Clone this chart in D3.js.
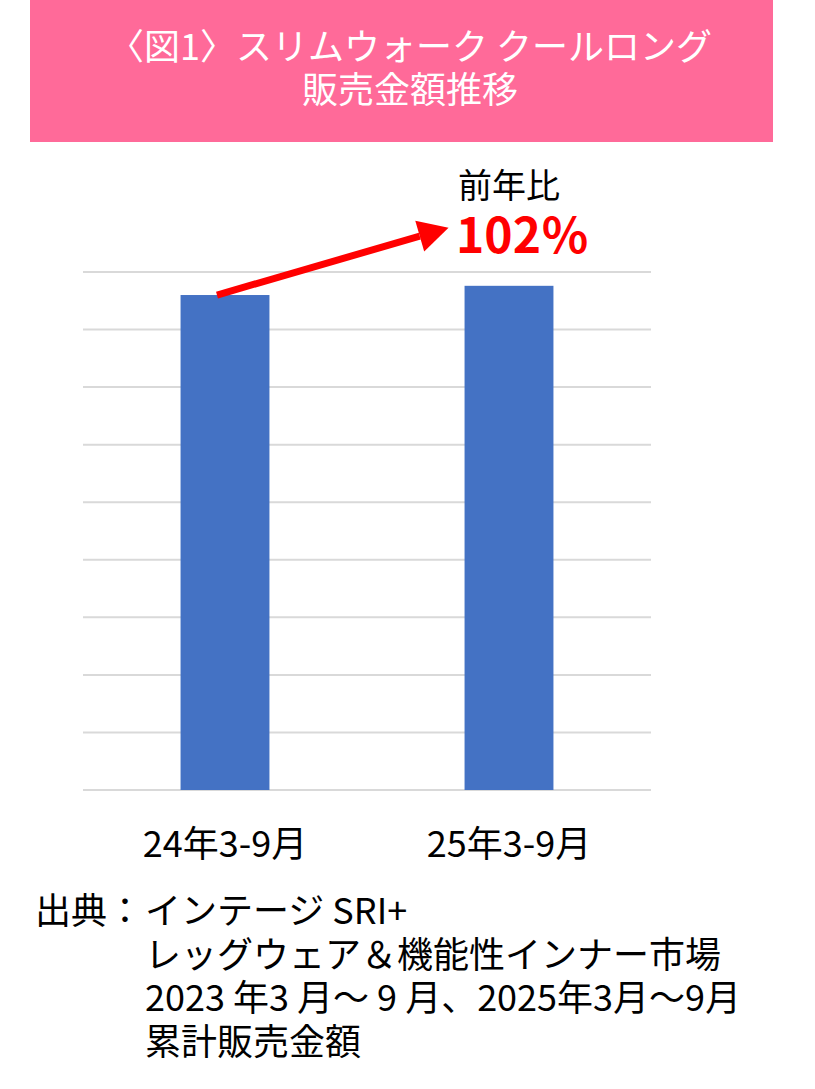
<!DOCTYPE html>
<html>
<head>
<meta charset="utf-8">
<script src="https://cdn.jsdelivr.net/npm/d3@7"></script>
<style>
  body { margin: 0; background: #fff; }
  text { font-family: "Noto Sans CJK JP", "Noto Sans", sans-serif; }
</style>
</head>
<body>
<div id="chart"></div>
<script>
var titleLines = ["〈図1〉スリムウォーク クールロング", "販売金額推移"];
var categories = ["24年3-9月", "25年3-9月"];
var values = [86.0, 87.6];          // 累計販売金額 (相対値, 目盛なし)
var gridTicks = [0, 10, 20, 30, 40, 50, 60, 70, 80, 90];
var yoyLabel = "前年比";
var yoyValue = "102％";
var noteHead = "出典：";
var noteLines = ["インテージ SRI+", "レッグウェア＆機能性インナー市場",
                 "2023 年3 月～ 9 月、2025年3月～9月", "累計販売金額"];

var width = 815,
	height = 1089;

var svg = d3.select("#chart")
	.append("svg")
	.attr("width", width)
	.attr("height", height);

// header
svg.append("rect")
	.attr("x", 30).attr("y", 0)
	.attr("width", 743).attr("height", 142)
	.attr("fill", "#ff6a99");

svg.selectAll(".title")
	.data(titleLines)
	.enter().append("text")
	.attr("class", "title")
	.attr("x", 410)
	.attr("y", function(d, i) { return 60 + i * 43; })
	.attr("text-anchor", "middle")
	.attr("font-size", 36)
	.attr("fill", "#fff")
	.text(function(d) { return d; });

var x = d3.scaleBand()
	.domain(categories)
	.range([83, 651])
	.paddingInner(0.687)
	.paddingOuter(0.3435);

var y = d3.scaleLinear()
	.domain([0, 90])
	.range([790, 272]);

// gridlines
svg.selectAll(".grid")
	.data(gridTicks)
	.enter().append("line")
	.attr("x1", 83).attr("x2", 651)
	.attr("y1", function(d) { return y(d); })
	.attr("y2", function(d) { return y(d); })
	.attr("stroke", "#d9d9d9")
	.attr("stroke-width", 2);

svg.selectAll(".bar")
	.data(values)
	.enter().append("rect")
	.attr("x", function(d, i) { return x(categories[i]); })
	.attr("y", function(d) { return y(d); })
	.attr("width", x.bandwidth())
	.attr("height", function(d) { return y(0) - y(d); })
	.attr("fill", "#4472c4");

// category labels
svg.selectAll(".cat")
	.data(categories)
	.enter().append("text")
	.attr("x", function(d) { return x(d) + x.bandwidth() / 2; })
	.attr("y", 857)
	.attr("text-anchor", "middle")
	.attr("font-size", 36)
	.attr("fill", "#000")
	.text(function(d) { return d; });

// arrow from bar 1 toward the label
var x0 = x(categories[0]) + x.bandwidth() * 0.41,
	y0 = y(values[0]),
	x1 = x(categories[1]) - 16,
	y1 = y(values[1]) - 58;
var ang = Math.atan2(y1 - y0, x1 - x0),
	headLen = 30, headW = 16;
var bx = x1 - headLen * Math.cos(ang),
	by = y1 - headLen * Math.sin(ang);
svg.append("line")
	.attr("x1", x0).attr("y1", y0)
	.attr("x2", bx).attr("y2", by)
	.attr("stroke", "#ff0000")
	.attr("stroke-width", 7);
svg.append("path")
	.attr("d", "M" + x1 + "," + y1 +
		"L" + (bx + headW * Math.sin(ang)) + "," + (by - headW * Math.cos(ang)) +
		"L" + (bx - headW * Math.sin(ang)) + "," + (by + headW * Math.cos(ang)) + "Z")
	.attr("fill", "#ff0000");

svg.append("text")
	.attr("x", 458).attr("y", 198)
	.attr("font-size", 34)
	.attr("fill", "#000")
	.text(yoyLabel);

svg.append("text")
	.attr("x", 456).attr("y", 253)
	.attr("font-size", 48)
	.attr("font-weight", "bold")
	.attr("fill", "#ff0000")
	.text(yoyValue);

// source note
svg.append("text")
	.attr("x", 35).attr("y", 924)
	.attr("font-size", 36)
	.attr("fill", "#000")
	.text(noteHead);

svg.selectAll(".note")
	.data(noteLines)
	.enter().append("text")
	.attr("x", 145)
	.attr("y", function(d, i) { return 924 + i * 43.5; })
	.attr("font-size", 36)
	.attr("fill", "#000")
	.text(function(d) { return d; });
</script>
</body>
</html>
